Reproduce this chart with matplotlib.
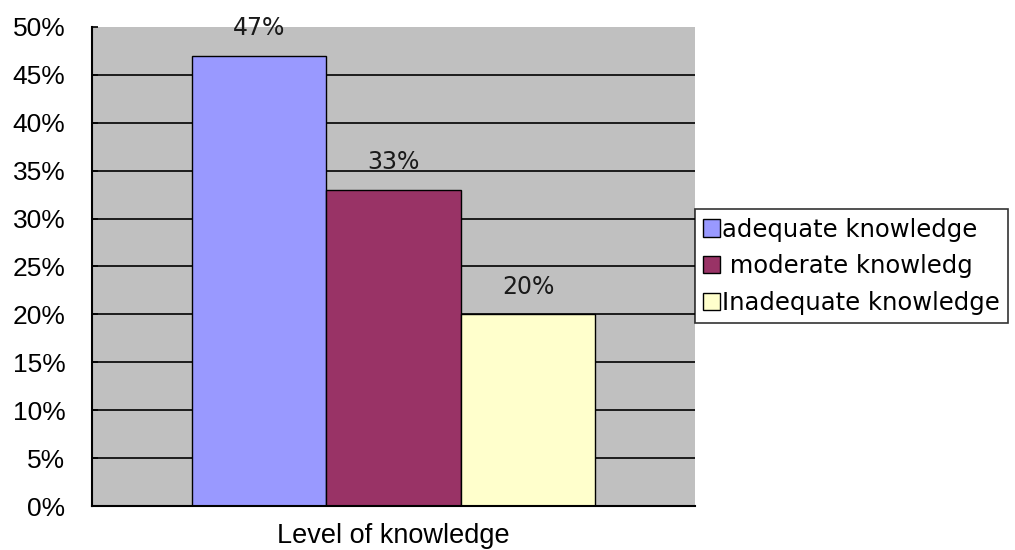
import matplotlib
matplotlib.use("Agg")
import numpy as np
import matplotlib.pyplot as plt

plt.rcParams['font.family'] = ['Liberation Sans', 'DejaVu Sans']

# data
labels = ['adequate knowledge', ' moderate knowledg', 'Inadequate knowledge']
values = [47, 33, 20]
colors = ['#9999FF', '#993366', '#FFFFCC']
yticks = np.arange(0, 51, 5)

fig = plt.figure(figsize=(10.15, 5.5), dpi=100)
ax = fig.add_axes([0.0906, 0.08, 0.594, 0.871])
ax.set_facecolor('#C0C0C0')

xpos = np.arange(len(values)) - 1
bars = ax.bar(xpos, values, width=1.0, color=colors, edgecolor='black',
              linewidth=1.0, label=labels, zorder=3)

# gridlines (excel style), behind bars
for v in yticks[1:-1]:
    ax.axhline(v, color='black', linewidth=1.2, zorder=1)

for x, v in zip(xpos, values):
    ax.annotate('%d%%' % v, (x, v), xytext=(0, 20), textcoords='offset points',
                ha='center', va='center', fontsize=17, family='DejaVu Sans',
                color='#1a1a1a', zorder=4)

ax.set_xlim(-2.24, 2.24)
ax.set_ylim(0, 50)
ax.set_yticks(yticks)
ax.set_yticklabels(['%d%%' % v for v in yticks], fontsize=19)
ax.set_xticks([])
ax.tick_params(axis='y', direction='in', length=4, width=1.2, pad=19)
for side in ['top', 'right']:
    ax.spines[side].set_visible(False)
ax.spines['left'].set_linewidth(1.5)
ax.spines['bottom'].set_linewidth(1.5)
ax.spines['left'].set_zorder(5)
ax.spines['bottom'].set_zorder(5)
ax.set_xlabel('Level of knowledge', fontsize=19.5, labelpad=12)

leg = fig.legend(handles=bars, labels=labels, loc='upper left',
                 bbox_to_anchor=(0.6847, (550 - 209) / 550.0), borderaxespad=0,
                 prop={'family': 'DejaVu Sans', 'size': 17.5},
                 frameon=True, fancybox=False, edgecolor='black',
                 handlelength=0.7, handleheight=0.7, handletextpad=0.05,
                 labelspacing=0.52, borderpad=0.35)
leg.get_frame().set_linewidth(1.2)

fig.savefig('out.png', dpi=100)
